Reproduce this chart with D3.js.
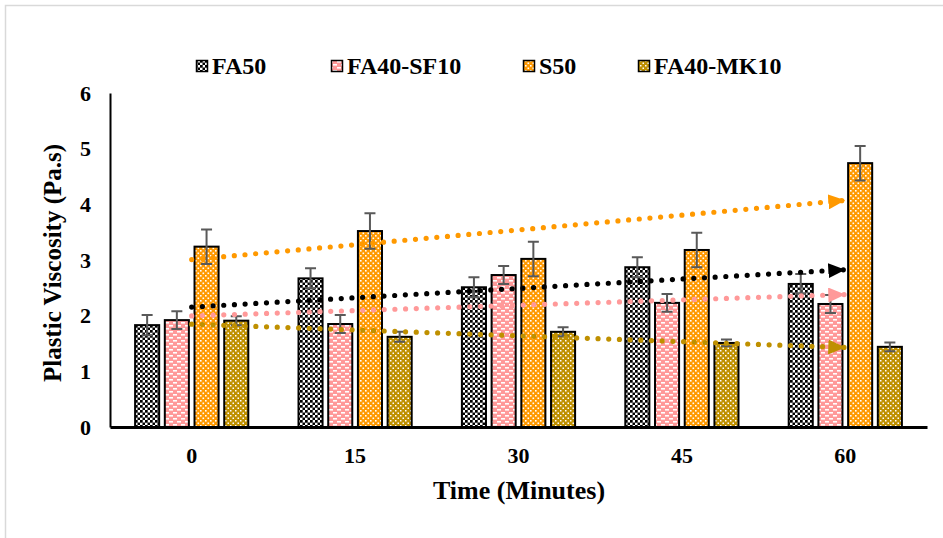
<!DOCTYPE html>
<html>
<head>
<meta charset="utf-8">
<script src="https://cdn.jsdelivr.net/npm/d3@7"></script>
<style>
  html, body { margin: 0; padding: 0; background: #fff; }
  svg { display: block; }
  text { font-family: "Liberation Serif", "Times New Roman", serif; font-weight: bold; fill: #000; }
</style>
</head>
<body>
<svg id="chart" width="943" height="538"></svg>
<script>
// ---- data ----
const times = ["0", "15", "30", "45", "60"];
const seriesNames = ["FA50", "FA40-SF10", "S50", "FA40-MK10"];
const fa50 = [1.83, 2.67, 2.51, 2.87, 2.57];
const fa40sf10 = [1.92, 1.85, 2.73, 2.23, 2.21];
const s50 = [3.24, 3.52, 3.02, 3.18, 4.74];
const fa40mk10 = [1.91, 1.62, 1.71, 1.51, 1.44];
const fa50Err = [0.18, 0.18, 0.18, 0.18, 0.18];
const fa40sf10Err = [0.16, 0.16, 0.16, 0.16, 0.16];
const s50Err = [0.31, 0.32, 0.31, 0.31, 0.31];
const fa40mk10Err = [0.08, 0.09, 0.08, 0.06, 0.08];
const yTicks = [0, 1, 2, 3, 4, 5, 6];
const xTitle = "Time (Minutes)";
const yTitle = "Plastic Viscosity (Pa.s)";

const seriesValues = [fa50, fa40sf10, s50, fa40mk10];
const seriesErrors = [fa50Err, fa40sf10Err, s50Err, fa40mk10Err];
const patternIds = ["pFA50", "pSF10", "pS50", "pMK10"];
const trendColors = ["#000000", "#FF9999", "#FF9900", "#BF9000"];

const svg = d3.select("#chart");

// ---- patterns ----
const defs = svg.append("defs");
function checker(id, bg, fg, cell, fgSize) {
  const p = defs.append("pattern").attr("id", id).attr("patternUnits", "userSpaceOnUse")
    .attr("width", cell * 2).attr("height", cell * 2);
  p.append("rect").attr("width", cell * 2).attr("height", cell * 2).attr("fill", bg);
  p.append("rect").attr("x", 0).attr("y", 0).attr("width", fgSize).attr("height", fgSize).attr("fill", fg);
  p.append("rect").attr("x", cell).attr("y", cell).attr("width", fgSize).attr("height", fgSize).attr("fill", fg);
}
checker("pFA50", "#ffffff", "#000000", 2.5, 2.7);
checker("pS50", "#FF9900", "#ffffff", 2.5, 1.6);
checker("pMK10", "#BF9000", "#ffffff", 2.5, 1.5);
{
  const p = defs.append("pattern").attr("id", "pSF10").attr("patternUnits", "userSpaceOnUse")
    .attr("width", 8).attr("height", 6);
  p.append("rect").attr("width", 8).attr("height", 6).attr("fill", "#FF9999");
  p.append("rect").attr("x", 1).attr("y", 1).attr("width", 4).attr("height", 1.6).attr("fill", "#fff");
  p.append("rect").attr("x", 5).attr("y", 4).attr("width", 3).attr("height", 1.6).attr("fill", "#fff");
  p.append("rect").attr("x", 0).attr("y", 4).attr("width", 1).attr("height", 1.6).attr("fill", "#fff");
}
trendColors.forEach((c, i) => {
  defs.append("marker").attr("id", "arr" + i)
    .attr("markerUnits", "userSpaceOnUse")
    .attr("viewBox", "0 0 17 15").attr("markerWidth", 17).attr("markerHeight", 15)
    .attr("refX", 17).attr("refY", 7.5).attr("orient", "auto")
    .append("path").attr("d", "M0,0 L17,7.5 L0,15 Z").attr("fill", c);
});

// ---- frame ----
svg.append("rect").attr("x", 5.5).attr("y", 5.5).attr("width", 960).attr("height", 560)
  .attr("fill", "#fff").attr("stroke", "#D9D9D9").attr("stroke-width", 1.5);

// ---- scales ----
const y = d3.scaleLinear().domain([0, 6]).range([427, 93]);
const x0 = d3.scaleBand().domain(times).range([110, 927]);
const x1 = d3.scaleBand().domain(seriesNames).range([0, x0.bandwidth()])
  .paddingInner(0.19).paddingOuter(0.845);

// ---- bars ----
const barData = [];
seriesNames.forEach((s, si) => times.forEach((t, ti) => {
  barData.push({ s, si, t, v: seriesValues[si][ti], e: seriesErrors[si][ti] });
}));
svg.append("g").selectAll("rect").data(barData).join("rect")
  .attr("x", d => x0(d.t) + x1(d.s))
  .attr("y", d => y(d.v))
  .attr("width", x1.bandwidth())
  .attr("height", d => y(0) - y(d.v))
  .attr("fill", d => `url(#${patternIds[d.si]})`)
  .attr("stroke", "#000").attr("stroke-width", 2);

// ---- error bars ----
const eg = svg.append("g").attr("stroke", "#595959").attr("stroke-width", 2).attr("fill", "none");
barData.forEach(d => {
  const cx = x0(d.t) + x1(d.s) + x1.bandwidth() / 2;
  const top = y(d.v + d.e), bot = y(d.v - d.e);
  eg.append("path").attr("d", `M${cx},${top}V${bot}M${cx - 5.5},${top}H${cx + 5.5}M${cx - 5.5},${bot}H${cx + 5.5}`);
});

// ---- axes ----
const yAxis = svg.append("g").attr("transform", "translate(110,0)")
  .call(d3.axisLeft(y).tickValues(yTicks).tickSize(0).tickPadding(19).tickFormat(d3.format("d")));
yAxis.select(".domain").attr("stroke", "#000").attr("stroke-width", 2);
yAxis.selectAll("text").style("font-size", "22px").style("font-family", "Liberation Serif, serif").style("font-weight", "bold");

const xAxis = svg.append("g").attr("transform", "translate(0,427)")
  .call(d3.axisBottom(x0).tickSize(0).tickPadding(20));
xAxis.select(".domain").attr("stroke", "#000").attr("stroke-width", 3);
xAxis.selectAll("text").style("font-size", "22px").style("font-family", "Liberation Serif, serif").style("font-weight", "bold");

// ---- trendlines (linear regression) ----
const idx = times.map((_, i) => i);
const tx = i => x0(times[i]) + x0.bandwidth() / 2;
const line = d3.line().x(d => d[0]).y(d => d[1]);
[0, 1, 2, 3].forEach(si => {
  const vals = seriesValues[si];
  const mx = d3.mean(idx), my = d3.mean(vals);
  const slope = d3.sum(idx, i => (i - mx) * (vals[i] - my)) / d3.sum(idx, i => (i - mx) ** 2);
  const b = my - slope * mx;
  const first = 0, last = idx.length - 1;
  const pts = [[tx(first), y(b + slope * first)], [tx(last), y(b + slope * last)]];
  svg.append("path").attr("d", line(pts)).attr("fill", "none")
    .attr("stroke", trendColors[si]).attr("stroke-width", 5.2)
    .attr("stroke-linecap", "round").attr("stroke-dasharray", "0 10.7");
  svg.append("path").attr("d", line(pts)).attr("fill", "none").attr("stroke", "none")
    .attr("marker-end", `url(#arr${si})`);
});

// ---- titles ----
svg.append("text").attr("x", 519).attr("y", 499).attr("text-anchor", "middle")
  .style("font-size", "26px").text(xTitle);
svg.append("text").attr("transform", "translate(52,263) rotate(-90)").attr("text-anchor", "middle")
  .attr("dy", "0.35em").style("font-size", "25px").text(yTitle);

// ---- legend ----
const legendLeft = [196, 331, 523, 638];
const lg = svg.append("g");
seriesNames.forEach((s, si) => {
  const lx = legendLeft[si];
  lg.append("rect").attr("x", lx + 0.5).attr("y", 60.5).attr("width", 11).attr("height", 11)
    .attr("fill", `url(#${patternIds[si]})`).attr("stroke", "#000").attr("stroke-width", 1.5);
  lg.append("text").attr("x", lx + 16).attr("y", 74).style("font-size", "24px").text(s);
});
</script>
</body>
</html>
